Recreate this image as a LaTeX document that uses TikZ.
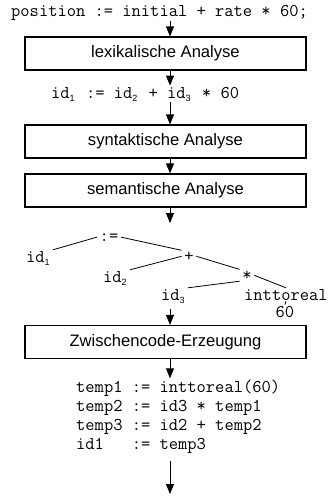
\documentclass[tikz,border=0pt]{standalone}
\usepackage{fontspec}
\setsansfont{Liberation Sans}
\usetikzlibrary{arrows.meta}
% small sans index after an identifier
\newcommand\idx[1]{\raisebox{-3pt}{\fontsize{9}{9}\selectfont\sffamily #1}\kern2pt\relax}
\begin{document}
\begin{tikzpicture}[x=1pt,y=-1pt,
  stage/.style={draw,line width=1.2pt,minimum width=281pt,minimum height=33pt,
    inner sep=0pt,font=\fontsize{16.6}{20}\selectfont\sffamily},
  code/.style={inner sep=1pt,font=\fontsize{18}{19}\selectfont\ttfamily},
  op/.style={code,inner xsep=2.5pt},
  flow/.style={-{Triangle[width=8pt,length=10pt]},line width=0.9pt},
  branch/.style={line width=0.8pt}]
\fill[white] (0,0) rectangle (331,504);
\useasboundingbox (0,0) rectangle (331,504);

% axis of the vertical flow
\coordinate (ax) at (170,0);

% source statement and token stream
\node[code,anchor=base west] (src) at (10,16) {position := initial + rate * 60;};
\node[stage] (lex) at (165.5,53.5) {lexikalische Analyse};
\node[code,anchor=base west] (tok) at (50,98) {id\idx{1} := id\idx{2} + id\idx{3} * 60};
\node[stage] (syn) at (165.5,141.5) {syntaktische Analyse};
\node[stage] (sem) at (165.5,190.5) {semantische Analyse};

% syntax tree
\node[op,anchor=base] (asg) at (109,241) {:=};
\node[code,anchor=base west] (t1) at (25,262) {id\idx{1}};
\node[op,anchor=base] (plus) at (189,261) {+};
\node[code,anchor=base west] (t2) at (102,282) {id\idx{2}};
\node[op,anchor=base] (star) at (247,280) {*};
\node[code,anchor=base west] (t3) at (160,300) {id\idx{3}};
\node[code,anchor=base west] (conv) at (243,300) {inttoreal};
\node[code,anchor=base] (sixty) at (285,317) {60};

\draw[branch] (t1.north east) -- (asg.west);
\draw[branch] (asg.east) -- (plus.north west);
\draw[branch] (t2.north east) -- (plus.west);
\draw[branch] (plus.east) -- (star.north west);
\draw[branch] (t3.north east) -- (star.south west);
\draw[branch] (star.east) -- (conv.north);
\draw[branch] (conv.south) -- (sixty.north);

% intermediate code
\node[stage] (gen) at (165.5,342) {Zwischencode-Erzeugung};
\node[code,anchor=base west] (tac1) at (75,392) {temp1 := inttoreal(60)};
\node[code,anchor=base west] (tac2) at (75,411) {temp2 := id3 * temp1};
\node[code,anchor=base west] (tac3) at (75,430) {temp3 := id2 + temp2};
\node[code,anchor=base west] (tac4) at (75,449) {id1\ \ \ := temp3};

% flow arrows
\coordinate (treein) at (170,223);
\coordinate (treeout) at (170,309);
\coordinate (done) at (170,494);
\draw[flow] (src.south -| ax) -- (lex.north -| ax);
\draw[flow] (lex.south -| ax) -- (tok.north -| ax);
\draw[flow] (tok.south -| ax) -- (syn.north -| ax);
\draw[flow] (syn.south -| ax) -- (sem.north -| ax);
\draw[flow] (sem.south -| ax) -- (treein);
\draw[flow] (treeout) -- (gen.north -| ax);
\draw[flow] (gen.south -| ax) -- (tac1.north -| ax);
\draw[flow,shorten <=7pt] (tac4.south -| ax) -- (done);
\end{tikzpicture}
\end{document}
